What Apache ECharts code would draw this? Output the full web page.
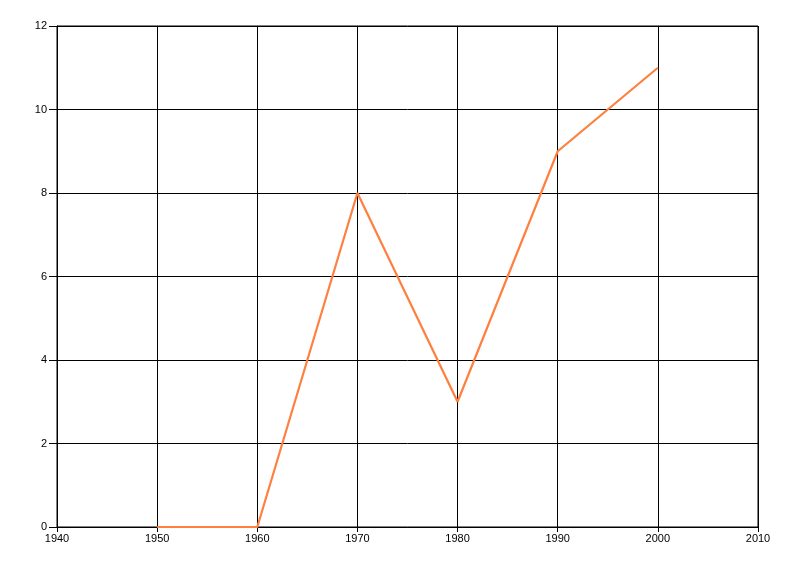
<!DOCTYPE html>
<html><head><meta charset="utf-8">
<script src="https://cdn.jsdelivr.net/npm/echarts@6/dist/echarts.min.js"></script>
<style>html,body{margin:0;padding:0;background:#fff}#c{width:800px;height:576px}</style>
</head><body><div id="c"></div>
<script>
const years = [1950, 1960, 1970, 1980, 1990, 2000];
const values = [0, 0, 8, 3, 9, 11];
const chart = echarts.init(document.getElementById('c'), null, {renderer: 'canvas'});
chart.setOption({
  animation: false,
  backgroundColor: '#fff',
  grid: {left: 57, right: 42, top: 26, bottom: 49, show: true, borderColor: '#000', borderWidth: 1},
  xAxis: {
    type: 'value', min: 1940, max: 2010, interval: 10,
    axisLine: {show: true, lineStyle: {color: '#000', width: 1}},
    axisTick: {show: true, length: 5, lineStyle: {color: '#000'}},
    axisLabel: {color: '#000', fontSize: 11, fontFamily: 'Liberation Sans', margin: 6, formatter: v => String(v)},
    splitLine: {show: true, lineStyle: {color: '#000', width: 1}}
  },
  yAxis: {
    type: 'value', min: 0, max: 12, interval: 2,
    axisLine: {show: true, lineStyle: {color: '#000', width: 1}},
    axisTick: {show: true, length: 8, lineStyle: {color: '#000'}},
    axisLabel: {color: '#000', fontSize: 11, fontFamily: 'Liberation Sans', margin: 10, formatter: v => String(v)},
    splitLine: {show: true, lineStyle: {color: '#000', width: 1}}
  },
  series: [{
    type: 'line',
    data: years.map((y, i) => [y, values[i]]),
    symbol: 'none',
    lineStyle: {color: '#FF7F3F', width: 2.2},
    itemStyle: {color: '#FF7F3F'}
  }]
});
</script></body></html>
